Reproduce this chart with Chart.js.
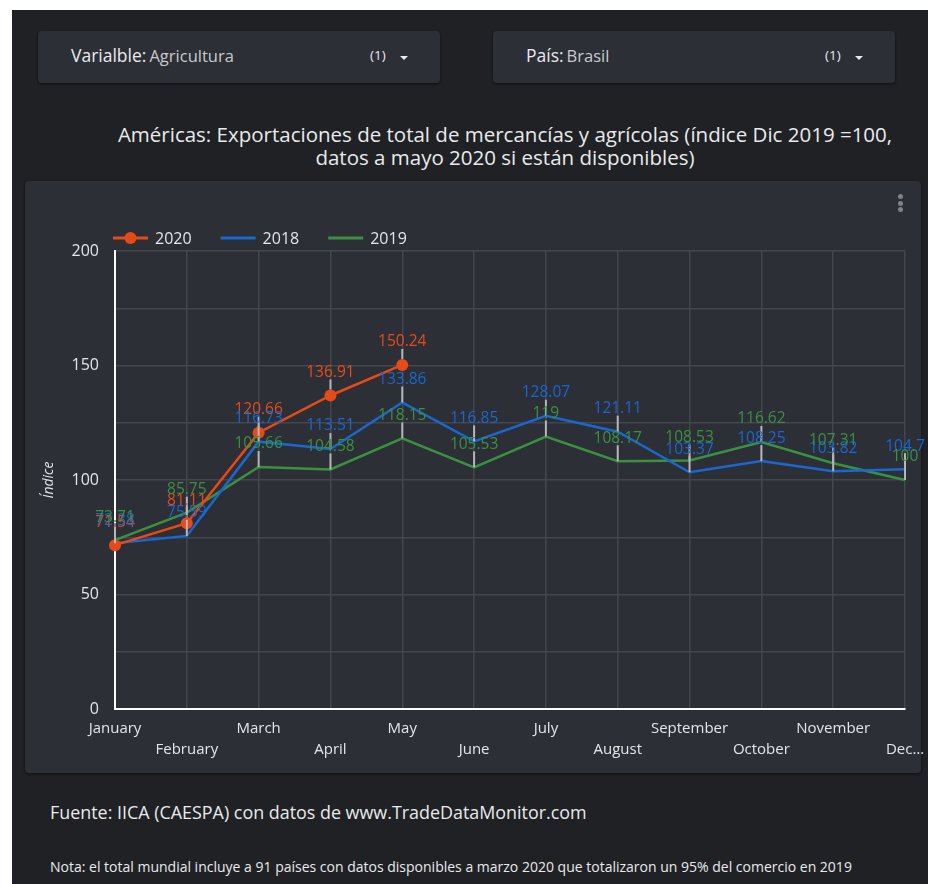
<!DOCTYPE html>
<html>
<head>
<meta charset="utf-8">
<script src="https://cdn.jsdelivr.net/npm/chart.js@4"></script>
<style>
  body { margin: 0; background: #ffffff; font-family: "Open Sans", sans-serif; }
  #page { position: absolute; left: 12px; top: 10px; width: 916px; height: 874px; background: #202124; overflow: hidden; }
  .dd { position: absolute; top: 21px; width: 402px; height: 52px; background: #2d2f37; border-radius: 4px;
        box-shadow: 0 1px 3px rgba(0,0,0,0.6); color: #e8eaed; }
  .dd .lbl { position: absolute; left: 33px; top: 12px; font-size: 17.5px; }
  .dd .lbl span { font-size: 16.5px; color: #c8cacd; margin-left: 3px; }
  .dd .cnt { position: absolute; left: 332px; top: 15px; font-size: 13.5px; }
  .dd .arr { position: absolute; left: 362px; top: 25px; width: 0; height: 0;
             border-left: 4px solid transparent; border-right: 4px solid transparent; border-top: 4px solid #e8eaed; }
  #title { position: absolute; left: 0; width: 916px; top: 113px; text-align: center; color: #e8eaed;
           font-size: 20.5px; line-height: 23px; padding-left: 70px; box-sizing: border-box; }
  #panel { position: absolute; left: 13px; top: 171px; width: 896px; height: 592px; background: #2d2f37;
           border-radius: 4px; box-shadow: 0 1px 3px rgba(0,0,0,0.6); }
  #myCanvas { position: absolute; left: 0; top: 0; }
  #kebab { position: absolute; left: 873px; top: 13px; }
  #kebab div { width: 5px; height: 5px; border-radius: 50%; background: #80838a; margin-bottom: 1.5px; }
  #src { position: absolute; left: 38px; top: 790px; color: #e8eaed; font-size: 17.9px; }
  #note { position: absolute; left: 38px; top: 847px; color: #e8eaed; font-size: 14px; }
</style>
</head>
<body>
<div id="page">
  <div class="dd" style="left:26px"><div class="lbl">Varialble:<span>Agricultura</span></div><div class="cnt">(1)</div><div class="arr"></div></div>
  <div class="dd" style="left:481px"><div class="lbl">País:<span>Brasil</span></div><div class="cnt">(1)</div><div class="arr"></div></div>
  <div id="title">Américas: Exportaciones de total de mercancías y agrícolas (índice Dic 2019 =100,<br>datos a mayo 2020 si están disponibles)</div>
  <div id="panel">
    <canvas id="myCanvas" width="903" height="592"></canvas>
    <div id="kebab"><div></div><div></div><div></div></div>
  </div>
  <div id="src">Fuente: IICA (CAESPA) con datos de www.TradeDataMonitor.com</div>
  <div id="note">Nota: el total mundial incluye a 91 países con datos disponibles a marzo 2020 que totalizaron un 95% del comercio en 2019</div>
</div>
<script>
const months = ['January', 'February', 'March', 'April', 'May', 'June', 'July', 'August', 'September', 'October', 'November', 'December'];
const xTickLabels = ['January', 'February', 'March', 'April', 'May', 'June', 'July', 'August', 'September', 'October', 'November', 'Dec…'];
const seriesNames = ['2020', '2018', '2019'];
const values2020 = [71.54, 81.11, 120.66, 136.91, 150.24, null, null, null, null, null, null, null];
const values2018 = [72.38, 75.59, 116.73, 113.51, 133.86, 116.85, 128.07, 121.11, 103.37, 108.25, 103.82, 104.7];
const values2019 = [73.71, 85.75, 105.66, 104.58, 118.15, 105.53, 119, 108.17, 108.53, 116.62, 107.31, 100];
const yTickLabels = [0, 50, 100, 150, 200];

const textColor = '#e3e5e8';
const fontFam = '"Open Sans", sans-serif';

// labels above each point with a small grey stem
const pointLabels = {
  id: 'pointLabels',
  afterDatasetsDraw(chart) {
    const ctx = chart.ctx;
    ctx.save();
    chart.data.datasets.forEach((ds, i) => {
      const meta = chart.getDatasetMeta(i);
      meta.data.forEach((pt, j) => {
        const v = ds.data[j];
        if (v === null || v === undefined) return;
        const r = ds.pointRadius || 0;
        ctx.strokeStyle = '#b4b6ba';
        ctx.lineWidth = 2;
        ctx.beginPath();
        ctx.moveTo(pt.x, pt.y - 16);
        ctx.lineTo(pt.x, pt.y - r);
        ctx.stroke();
      });
    });
    chart.data.datasets.forEach((ds, i) => {
      const meta = chart.getDatasetMeta(i);
      ctx.fillStyle = ds.borderColor;
      ctx.font = '15.5px ' + fontFam;
      ctx.textAlign = 'center';
      ctx.textBaseline = 'middle';
      meta.data.forEach((pt, j) => {
        const v = ds.data[j];
        if (v === null || v === undefined) return;
        ctx.fillText(String(v), pt.x, pt.y - 23);
      });
    });
    ctx.restore();
  }
};

// legend drawn from the chart area's left edge
const lineLegend = {
  id: 'lineLegend',
  afterDraw(chart) {
    const ctx = chart.ctx;
    const y = chart.chartArea.top - 13;
    let x = chart.chartArea.left - 2;
    ctx.save();
    ctx.font = '16px ' + fontFam;
    ctx.textBaseline = 'middle';
    ctx.textAlign = 'left';
    chart.data.datasets.forEach(ds => {
      ctx.strokeStyle = ds.borderColor;
      ctx.lineWidth = 3;
      ctx.beginPath();
      ctx.moveTo(x, y);
      ctx.lineTo(x + 35, y);
      ctx.stroke();
      if (ds.pointRadius) {
        ctx.fillStyle = ds.borderColor;
        ctx.beginPath();
        ctx.arc(x + 17.5, y, 6, 0, Math.PI * 2);
        ctx.fill();
      }
      ctx.fillStyle = textColor;
      ctx.fillText(ds.label, x + 42, y + 1);
      x += 42 + ctx.measureText(ds.label).width + 29;
    });
    ctx.restore();
  }
};

const ctx = document.getElementById('myCanvas').getContext('2d');
const newChart = new Chart(ctx, {
  type: 'line',
  data: {
    labels: months,
    datasets: [
      { label: seriesNames[0], data: values2020, borderColor: '#e64a19', backgroundColor: '#e64a19',
        borderWidth: 2.5, pointRadius: 6, pointHoverRadius: 6, pointBorderWidth: 0, tension: 0 },
      { label: seriesNames[1], data: values2018, borderColor: '#1a67cf', backgroundColor: '#1a67cf',
        borderWidth: 2.5, pointRadius: 0, tension: 0 },
      { label: seriesNames[2], data: values2019, borderColor: '#3a9140', backgroundColor: '#3a9140',
        borderWidth: 2.5, pointRadius: 0, tension: 0 }
    ]
  },
  options: {
    responsive: false,
    animation: false,
    layout: { padding: { top: 70, right: 23, left: 0, bottom: 0 } },
    plugins: { legend: { display: false }, tooltip: { enabled: false } },
    scales: {
      x: {
        grid: { color: '#45474e', lineWidth: 1.5, drawTicks: false },
        border: { color: '#ffffff', width: 2 },
        ticks: {
          autoSkip: false, maxRotation: 0, minRotation: 0, padding: 9,
          color: textColor, font: { family: fontFam, size: 15, lineHeight: 1.4 },
          callback: (val, idx) => idx % 2 === 1 ? ['', xTickLabels[idx]] : [xTickLabels[idx]]
        },
        afterFit: s => { s.height = 64; s.paddingLeft = 0; s.paddingRight = 0; }
      },
      y: {
        min: 0, max: 200,
        grid: { color: '#45474e', lineWidth: 1.5, drawTicks: false },
        border: { color: '#ffffff', width: 2 },
        ticks: {
          stepSize: 25, padding: 16, color: textColor, font: { family: fontFam, size: 16 },
          callback: v => yTickLabels.includes(v) ? String(v) : ''
        },
        title: { display: true, text: 'Índice', color: textColor, padding: { top: 16, bottom: 0 },
                 font: { family: fontFam, size: 14, style: 'italic' } },
        afterFit: s => { s.width = 90; s.paddingTop = 0; s.paddingBottom = 0; }
      }
    }
  },
  plugins: [pointLabels, lineLegend]
});
</script>
</body>
</html>
